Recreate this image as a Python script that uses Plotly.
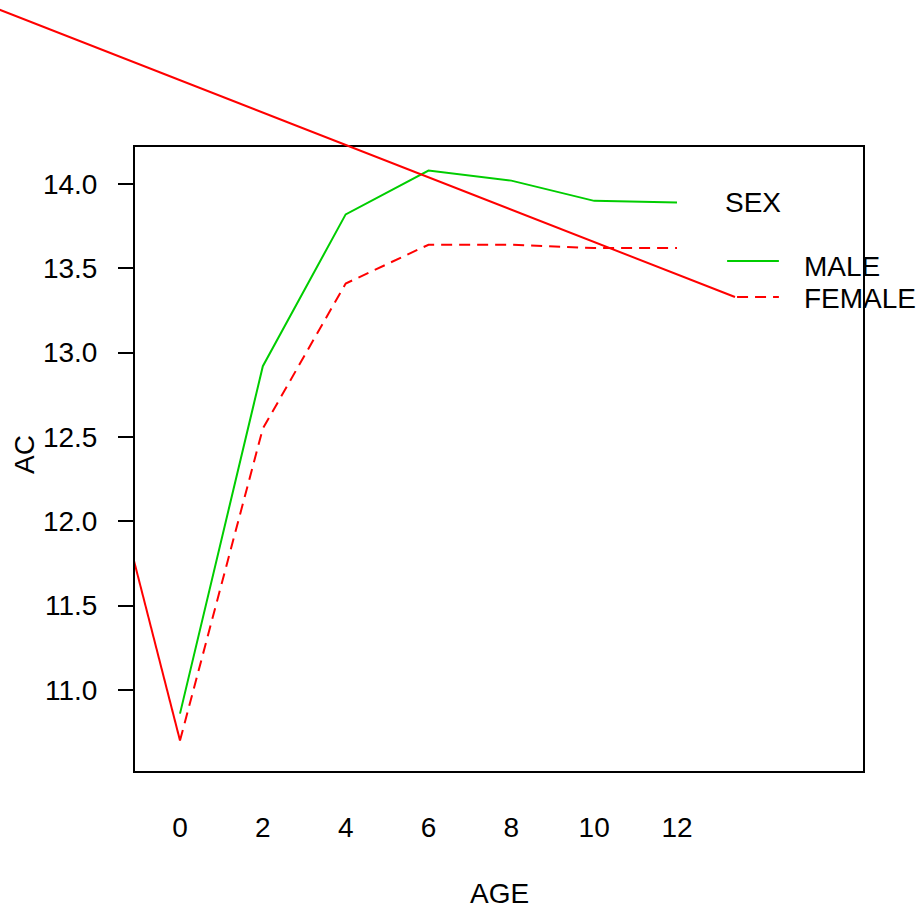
import plotly.graph_objects as go

# ---------------- data ----------------
AGE = [0, 2, 4, 6, 8, 10, 12]
AGE_LABELS = ["0", "2", "4", "6", "8", "10", "12"]
MALE_AC = [10.86, 12.92, 13.82, 14.08, 14.02, 13.90, 13.89]
FEMALE_AC = [10.70, 12.55, 13.41, 13.64, 13.64, 13.62, 13.62]
Y_TICKS = [11.0, 11.5, 12.0, 12.5, 13.0, 13.5, 14.0]

# stray red strokes present in the reference
STRAY1_X = [-5.0, 13.40]
STRAY1_Y = [15.095, 13.33]
STRAY2_X = [-1.5, 0.0]
STRAY2_Y = [12.14, 10.70]

# legend entries
LEG_TITLE = "SEX"
LEG_NAMES = ["MALE", "FEMALE"]
LEG_LINE_X = [13.21, 14.46]
LEG_Y = [13.544, 13.33]
LEG_TITLE_POS = (13.12, 13.89)
LEG_TEXT_X = 15.02
LEG_TEXT_Y = [13.51, 13.32]

# ---------------- layout geometry ----------------
W, H = 919, 911
PX_L, PX_R, PX_T, PX_B = 135, 863, 147, 771
X_RANGE = [-1.0865, 16.491]
Y_RANGE = [10.5198, 14.2194]

GREEN = "#00CD00"
RED = "#FF0000"
FONT = "Liberation Sans, Arial, sans-serif"
FS = 28

dom_x = [PX_L / W, PX_R / W]
dom_y = [(H - PX_B) / H, (H - PX_T) / H]

ppx = (PX_R - PX_L) / (X_RANGE[1] - X_RANGE[0])
ppy = (PX_B - PX_T) / (Y_RANGE[1] - Y_RANGE[0])
X2_RANGE = [X_RANGE[0] - PX_L / ppx, X_RANGE[1] + (W - PX_R) / ppx]
Y2_RANGE = [Y_RANGE[0] - (H - PX_B) / ppy, Y_RANGE[1] + PX_T / ppy]

fig = go.Figure()

fig.add_trace(go.Scatter(x=AGE, y=MALE_AC, mode="lines",
                         line=dict(color=GREEN, width=2), showlegend=False))
fig.add_trace(go.Scatter(x=AGE, y=FEMALE_AC, mode="lines",
                         line=dict(color=RED, width=2, dash="11px,7px"), showlegend=False))
fig.add_trace(go.Scatter(x=STRAY2_X, y=STRAY2_Y, mode="lines",
                         line=dict(color=RED, width=2), showlegend=False))
# legend lines
fig.add_trace(go.Scatter(x=LEG_LINE_X, y=[LEG_Y[0]] * 2, mode="lines",
                         line=dict(color=GREEN, width=2), showlegend=False))
fig.add_trace(go.Scatter(x=[STRAY1_X[1] + 0.05, LEG_LINE_X[1]], y=[LEG_Y[1]] * 2, mode="lines",
                         line=dict(color=RED, width=2, dash="11px,7px"), showlegend=False))
# unclipped stray line on a full-figure (transparent) second subplot
fig.add_trace(go.Scatter(x=STRAY1_X, y=STRAY1_Y, mode="lines", xaxis="x2", yaxis="y2",
                         line=dict(color=RED, width=2), showlegend=False))

fig.update_layout(
    width=W, height=H,
    margin=dict(l=0, r=0, t=0, b=0),
    paper_bgcolor="white", plot_bgcolor="rgba(0,0,0,0)",
    font=dict(family=FONT, size=FS, color="black"),
    xaxis=dict(domain=dom_x, range=X_RANGE, tickvals=AGE, ticktext=AGE_LABELS,
               ticks="", showgrid=False, zeroline=False, showline=True, mirror=True,
               linecolor="black", linewidth=2, ticklabelstandoff=30,
               tickfont=dict(family=FONT, size=FS, color="black")),
    yaxis=dict(domain=dom_y, range=Y_RANGE, tickvals=Y_TICKS,
               ticktext=[f"{v:.1f}" for v in Y_TICKS],
               ticks="outside", ticklen=15, tickwidth=2, tickcolor="black",
               showgrid=False, zeroline=False, showline=True, mirror=True,
               linecolor="black", linewidth=2, ticklabelstandoff=15,
               tickfont=dict(family=FONT, size=FS, color="black")),
    xaxis2=dict(domain=[0, 1], range=X2_RANGE, anchor="y2", visible=False),
    yaxis2=dict(domain=[0, 1], range=Y2_RANGE, anchor="x2", visible=False),
    annotations=[
        dict(text=LEG_TITLE, x=LEG_TITLE_POS[0], y=LEG_TITLE_POS[1], xref="x", yref="y",
             xanchor="left", yanchor="middle", showarrow=False),
        dict(text=LEG_NAMES[0], x=LEG_TEXT_X, y=LEG_TEXT_Y[0], xref="x", yref="y",
             xanchor="left", yanchor="middle", showarrow=False),
        dict(text=LEG_NAMES[1], x=LEG_TEXT_X, y=LEG_TEXT_Y[1], xref="x", yref="y",
             xanchor="left", yanchor="middle", showarrow=False),
        dict(text="AGE", x=(PX_L + PX_R) / 2 / W, y=(H - 893) / H, xref="paper", yref="paper",
             xanchor="center", yanchor="middle", showarrow=False),
        dict(text="AC", x=25 / W, y=(H - 455) / H, xref="paper", yref="paper",
             xanchor="center", yanchor="middle", textangle=-90, showarrow=False),
    ],
)

fig.write_html("out.html", config={"displayModeBar": False},
               post_script="document.body.style.margin='0px';document.body.style.overflow='hidden';")
